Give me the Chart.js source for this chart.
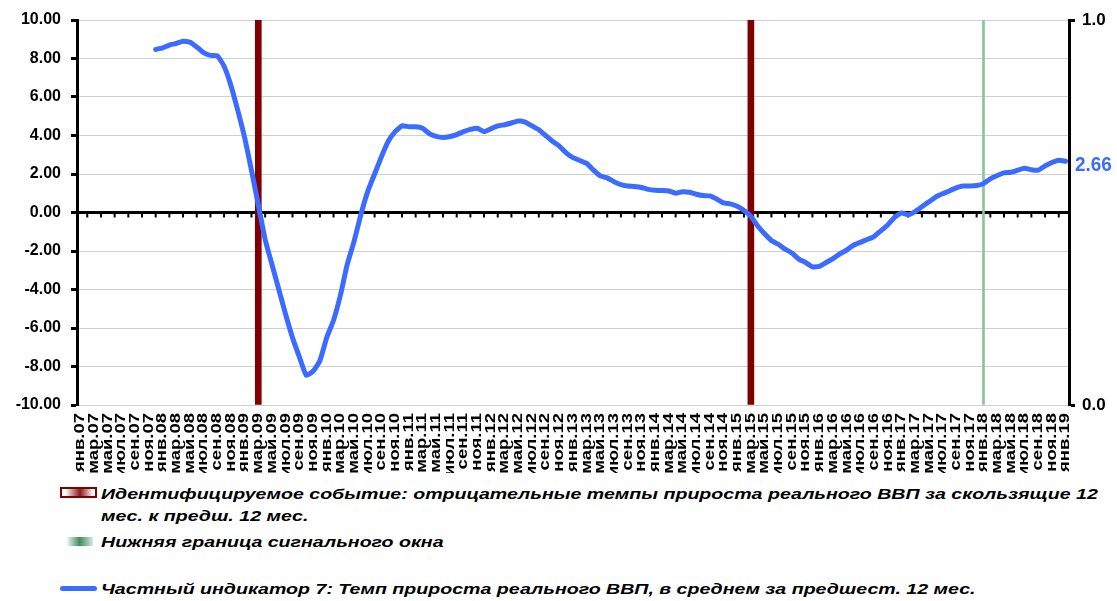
<!DOCTYPE html>
<html>
<head>
<meta charset="utf-8">
<script src="https://cdn.jsdelivr.net/npm/chart.js@4.4.1/dist/chart.umd.min.js"></script>
<style>
    body { margin: 0; background: #fff; }
    #wrap { position: relative; width: 1117px; height: 601px; overflow: hidden; }
    #chart { position: absolute; left: 0; top: 0; }
    .lg {
        position: absolute;
        left: 101px;
        font: italic bold 14.5px "Liberation Sans", Arial, sans-serif;
        line-height: 16px;
        white-space: nowrap;
        transform-origin: 0 0;
        color: #000;
    }
    .mk { position: absolute; box-sizing: border-box; }
</style>
</head>
<body>
<div id="wrap">
    <canvas id="chart" width="1117" height="473"></canvas>

    <div class="mk" style="left:60px;top:487px;width:37px;height:11px;border:2px solid #7f0000;background:linear-gradient(90deg,#fff 10%,#8b1a1a 55%,#fff 95%);"></div>
    <div class="lg" style="top:486px">Идентифицируемое событие: отрицательные темпы прироста реального ВВП за скользящие 12</div>
    <div class="lg" style="top:508px">мес. к предш. 12 мес.</div>

    <div class="mk" style="left:66px;top:537px;width:27px;height:9px;background:linear-gradient(90deg,#fff 0%,#3e8e5e 50%,#d6eadc 100%);"></div>
    <div class="lg" style="top:534px">Нижняя граница сигнального окна</div>

    <div class="mk" style="left:60px;top:586px;width:37px;height:5px;border-radius:3px;background:#3b6cff;"></div>
    <div class="lg" id="lastLine" style="top:581px">Частный индикатор 7: Темп прироста реального ВВП, в среднем за предшест. 12 мес.</div>
</div>

<script>
// Months and years for the category axis
const monthNames = ['янв', 'фев', 'мар', 'апр', 'май', 'июн', 'июл', 'авг', 'сен', 'окт', 'ноя', 'дек'];
const years = ['07', '08', '09', '10', '11', '12', '13', '14', '15', '16', '17', '18', '19'];

// Temp prirosta realnogo VVP, avg over previous 12 months (янв.07 .. янв.19)
const gdpGrowth = [
    null, null, null, null, null, null, null, null, null, null, null, 8.47,
    8.55, 8.70, 8.78, 8.90, 8.85, 8.60, 8.30, 8.16, 8.14, 7.60, 6.60, 5.30,
    3.90, 2.20, 0.40, -1.40, -2.70, -4.00, -5.30, -6.50, -7.50, -8.45, -8.25, -7.70,
    -6.50, -5.60, -4.30, -2.70, -1.50, -0.10, 1.10, 2.00, 2.90, 3.70, 4.20, 4.50,
    4.46, 4.45, 4.38, 4.10, 3.95, 3.90, 3.95, 4.05, 4.20, 4.32, 4.38, 4.20,
    4.35, 4.50, 4.56, 4.65, 4.75, 4.70, 4.50, 4.30, 4.00, 3.70, 3.45, 3.10,
    2.85, 2.70, 2.55, 2.20, 1.90, 1.80, 1.60, 1.45, 1.38, 1.35, 1.30, 1.20,
    1.15, 1.14, 1.12, 1.00, 1.08, 1.05, 0.95, 0.88, 0.86, 0.70, 0.50, 0.45,
    0.32, 0.10, -0.20, -0.70, -1.10, -1.45, -1.65, -1.90, -2.10, -2.42, -2.60, -2.82,
    -2.80, -2.60, -2.40, -2.15, -1.95, -1.70, -1.55, -1.40, -1.25, -0.95, -0.65, -0.25,
    -0.02, -0.12, 0.05, 0.30, 0.55, 0.80, 0.97, 1.12, 1.28, 1.38, 1.38, 1.40,
    1.50, 1.75, 1.92, 2.06, 2.09, 2.20, 2.30, 2.22, 2.20, 2.42, 2.60, 2.72,
    2.66
];

// Event months (red) and lower bound of the signal window (green)
const eventMonths = ['мар.09', 'мар.15'];
const signalMonths = ['янв.18'];

const leftTicks = { min: -10, max: 10, step: 2 };
const rightTicks = { min: 0, max: 1, step: 1 };

const labels = [];
years.forEach(y => monthNames.forEach(m => labels.push(m + '.' + y)));
labels.length = gdpGrowth.length;

const eventData = labels.map(l => eventMonths.includes(l) ? 1 : null);
const signalData = labels.map(l => signalMonths.includes(l) ? 1 : null);

const FONT = '"Liberation Sans", Arial, sans-serif';
const BLUE = '#3b6cff';

// zero axis with small tick marks, drawn under the series
const zeroLine = {
    id: 'zeroLine',
    beforeDatasetsDraw(chart) {
        const { ctx, chartArea, scales } = chart;
        const y0 = scales.y.getPixelForValue(0);
        ctx.save();
        ctx.strokeStyle = '#000';
        ctx.lineWidth = 3;
        ctx.beginPath();
        ctx.moveTo(chartArea.left, y0);
        ctx.lineTo(chartArea.right, y0);
        ctx.stroke();
        ctx.lineWidth = 2;
        for (let i = 1; i < labels.length; i += 2) {
            const x = scales.x.getPixelForValue(i);
            ctx.beginPath();
            ctx.moveTo(x, y0);
            ctx.lineTo(x, y0 + 5);
            ctx.stroke();
        }
        ctx.restore();
    }
};

// rotated, stretched month labels + last value label
const extraText = {
    id: 'extraText',
    afterDraw(chart) {
        const { ctx, chartArea, scales } = chart;
        ctx.save();
        ctx.fillStyle = '#000';
        ctx.font = 'bold 14px ' + FONT;
        ctx.textAlign = 'right';
        ctx.textBaseline = 'middle';
        labels.forEach((l, i) => {
            if (i % 2) return;
            const x = scales.x.getPixelForValue(i);
            ctx.save();
            ctx.translate(x, chartArea.bottom + 8);
            ctx.rotate(-Math.PI / 2);
            ctx.scale(1.32, 1);
            ctx.fillText(l, 0, 0);
            ctx.restore();
        });

        const last = gdpGrowth[gdpGrowth.length - 1];
        const y = scales.y.getPixelForValue(last) + 4;
        ctx.fillStyle = BLUE;
        ctx.font = 'bold 21px ' + FONT;
        ctx.textAlign = 'left';
        ctx.translate(chartArea.right + 6, y);
        ctx.scale(0.9, 1);
        ctx.fillText(last.toFixed(2), 0, 0);
        ctx.restore();
    }
};

new Chart(document.getElementById('chart').getContext('2d'), {
    type: 'line',
    data: {
        labels: labels,
        datasets: [{
            label: 'Частный индикатор 7',
            data: gdpGrowth,
            borderColor: BLUE,
            borderWidth: 5,
            borderCapStyle: 'round',
            borderJoinStyle: 'round',
            pointRadius: 0,
            tension: 0.15,
            spanGaps: false,
            yAxisID: 'y',
            order: 0
        }, {
            type: 'bar',
            label: 'Идентифицируемое событие',
            data: eventData,
            backgroundColor: '#7f0000',
            barThickness: 6,
            grouped: false,
            yAxisID: 'y2',
            order: 1
        }, {
            type: 'bar',
            label: 'Нижняя граница сигнального окна',
            data: signalData,
            backgroundColor: '#8cc49a',
            barThickness: 2,
            grouped: false,
            yAxisID: 'y2',
            order: 1
        }]
    },
    options: {
        responsive: false,
        animation: false,
        devicePixelRatio: 1,
        layout: { padding: { top: 20, right: 0, bottom: 0, left: 0 } },
        plugins: {
            legend: { display: false },
            tooltip: { enabled: false }
        },
        scales: {
            x: {
                type: 'category',
                offset: true,
                grid: { display: false },
                border: { display: false },
                ticks: { display: false },
                afterFit: scale => { scale.height = 68; }
            },
            y: {
                position: 'left',
                min: leftTicks.min,
                max: leftTicks.max,
                ticks: {
                    stepSize: leftTicks.step,
                    color: '#000',
                    padding: 10,
                    font: { family: FONT, size: 16, weight: 'bold' },
                    callback: v => v.toFixed(2)
                },
                grid: {
                    color: '#d0d0d0',
                    lineWidth: 1,
                    tickColor: '#000',
                    tickLength: 6,
                    tickWidth: 3
                },
                border: { color: '#000', width: 3 },
                afterFit: scale => { scale.width = 77; }
            },
            y2: {
                position: 'right',
                min: rightTicks.min,
                max: rightTicks.max,
                ticks: {
                    stepSize: rightTicks.step,
                    color: '#000',
                    padding: 7,
                    font: { family: FONT, size: 17, weight: 'bold' },
                    callback: v => v.toFixed(1)
                },
                grid: {
                    drawOnChartArea: false,
                    tickColor: '#000',
                    tickLength: 6,
                    tickWidth: 3
                },
                border: { color: '#000', width: 3 },
                afterFit: scale => { scale.width = 48; }
            }
        }
    },
    plugins: [zeroLine, extraText]
});

// stretch legend text like in the original
const lastLine = document.getElementById('lastLine');
const k = 874 / lastLine.offsetWidth;
document.querySelectorAll('.lg').forEach(el => { el.style.transform = 'scaleX(' + k + ')'; });
</script>
</body>
</html>
